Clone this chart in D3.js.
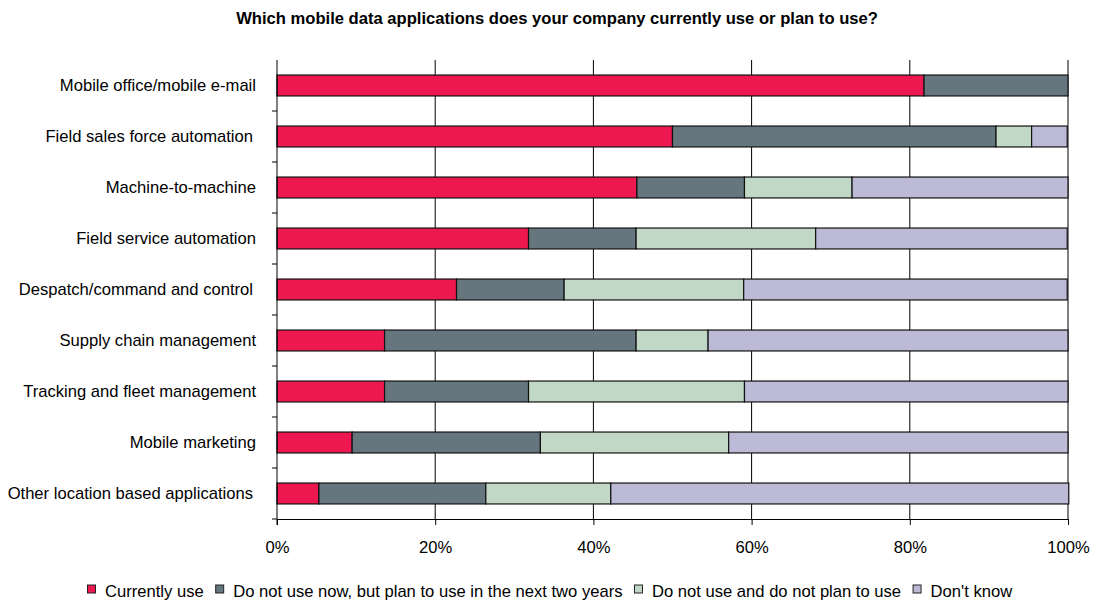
<!DOCTYPE html>
<html lang="en">
<head>
  <meta charset="UTF-8">
  <title>Mobile data applications</title>
  <script src="https://d3js.org/d3.v7.min.js"></script>
  <style>
    body {
      margin: 0;
      background: #ffffff;
      font-family: "Liberation Sans", Arial, sans-serif;
    }

    .axis path,
    .axis line {
      stroke: #000000;
    }

    .axis text {
      fill: #000000;
      font-size: 16.6px;
      font-family: "Liberation Sans", Arial, sans-serif;
    }

    .grid line {
      stroke: #000000;
      stroke-width: 1;
    }

    .legend text {
      font-size: 16.6px;
      fill: #000000;
    }
  </style>
</head>
<body>
  <script>
    const categories = [
      "Mobile office/mobile e-mail",
      "Field sales force automation ",
      "Machine-to-machine",
      "Field service automation",
      "Despatch/command and control ",
      "Supply chain management",
      "Tracking and fleet management",
      "Mobile marketing",
      "Other location based applications "
    ];

    const seriesNames = [
      "Currently use",
      "Do not use now, but plan to use in the next two years",
      "Do not use and do not plan to use",
      "Don't know"
    ];

    const colors = ["#ED1850", "#66767F", "#C1D8C6", "#BDBAD8"];

    // percentages
    const currentlyUse = [81.8, 50.0, 45.5, 31.8, 22.7, 13.6, 13.6, 9.5, 5.3];
    const planToUse = [18.2, 40.9, 13.6, 13.6, 13.6, 31.8, 18.2, 23.8, 21.1];
    const noPlan = [0, 4.5, 13.6, 22.7, 22.7, 9.1, 27.3, 23.8, 15.8];
    const dontKnow = [0, 4.5, 27.3, 31.8, 40.9, 45.5, 40.9, 42.9, 57.9];

    const tickValues = [0, 20, 40, 60, 80, 100];

    const title = "Which mobile data applications does your company currently use or plan to use?";

    const W = 1093, H = 601;
    const margin = {top: 60, right: 25, bottom: 82, left: 277};
    const width = W - margin.left - margin.right,
      height = H - margin.top - margin.bottom;

    const svg = d3.select("body").append("svg")
      .attr("width", W)
      .attr("height", H);

    svg.append("text")
      .attr("x", 557)
      .attr("y", 24)
      .attr("text-anchor", "middle")
      .style("font-size", "16.6px")
      .style("font-weight", "bold")
      .text(title);

    const g = svg.append("g")
      .attr("transform", "translate(" + margin.left + "," + margin.top + ")");

    const data = categories.map((c, i) => ({
      cat: c,
      s0: currentlyUse[i],
      s1: planToUse[i],
      s2: noPlan[i],
      s3: dontKnow[i]
    }));

    const keys = ["s0", "s1", "s2", "s3"];
    const stacked = d3.stack().keys(keys)(data);

    const x = d3.scaleLinear().domain([0, 100]).range([0, width]);
    const y = d3.scaleBand().domain(categories).range([0, height]).paddingInner(0.59).paddingOuter(0.295);
    const yBands = d3.scaleBand().domain(categories).range([0, height]);

    // vertical gridlines
    g.append("g")
      .attr("class", "grid")
      .selectAll("line")
      .data(tickValues.slice(1))
      .enter().append("line")
      .attr("x1", d => x(d))
      .attr("x2", d => x(d))
      .attr("y1", 0)
      .attr("y2", height);

    stacked.forEach((layer, li) => {
      g.selectAll(".bar" + li)
        .data(layer.filter(d => d[1] - d[0] > 0))
        .enter().append("rect")
        .attr("x", d => x(d[0]))
        .attr("y", d => y(d.data.cat))
        .attr("width", d => x(d[1]) - x(d[0]))
        .attr("height", y.bandwidth())
        .attr("fill", colors[li])
        .attr("stroke", "#111")
        .attr("stroke-width", 1.2);
    });

    // x axis
    g.append("g")
      .attr("class", "axis")
      .attr("transform", "translate(0," + height + ")")
      .call(d3.axisBottom(x).tickValues(tickValues).tickFormat(d => d + "%").tickSize(6).tickSizeOuter(0))
      .call(a => a.selectAll("text").attr("y", 34).attr("dy", 0));

    // y axis: line + ticks at band boundaries
    const ya = g.append("g").attr("class", "axis");
    ya.append("line")
      .attr("x1", 0).attr("x2", 0)
      .attr("y1", 0).attr("y2", height + 6);
    ya.selectAll(".ytick")
      .data(categories)
      .enter().append("line")
      .attr("x1", -5).attr("x2", 0)
      .attr("y1", d => yBands(d) + yBands.bandwidth())
      .attr("y2", d => yBands(d) + yBands.bandwidth());
    ya.selectAll(".ylabel")
      .data(categories)
      .enter().append("text")
      .attr("x", d => d.endsWith(" ") ? -24 : -21)
      .attr("y", d => yBands(d) + yBands.bandwidth() / 2)
      .attr("dy", "0.35em")
      .attr("text-anchor", "end")
      .text(d => d.trim());

    // legend
    const legend = svg.append("g").attr("class", "legend");
    let lx = 87.5;
    seriesNames.forEach((name, i) => {
      legend.append("rect")
        .attr("x", lx)
        .attr("y", 585)
        .attr("width", 8)
        .attr("height", 8)
        .attr("fill", colors[i])
        .attr("stroke", "#222")
        .attr("stroke-width", 1);
      const t = legend.append("text")
        .attr("x", lx + 17.5)
        .attr("y", 597)
        .text(name);
      lx += 17.5 + t.node().getComputedTextLength() + 12;
    });
  </script>
</body>
</html>
